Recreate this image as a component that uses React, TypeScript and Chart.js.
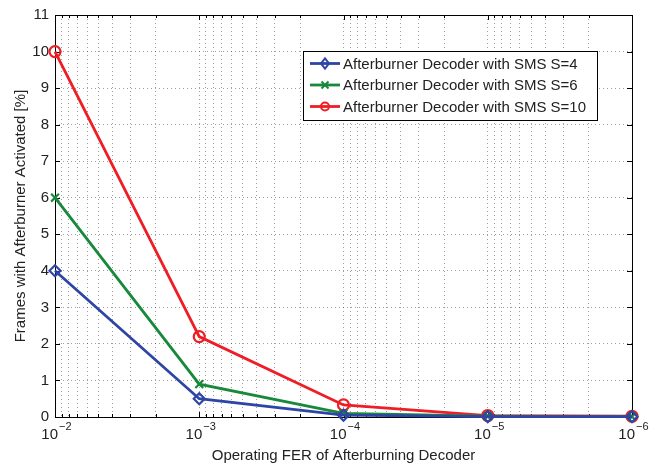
import React, { useEffect, useRef } from "react";
import { Chart, registerables } from "chart.js";

Chart.register(...registerables);

const fers = [1e-2, 1e-3, 1e-4, 1e-5, 1e-6];
const sms4 = [4, 0.5, 0.05, 0.01, 0.01];
const sms6 = [6, 0.9, 0.1, 0.02, 0.01];
const sms10 = [10, 2.2, 0.33, 0.04, 0.02];
const seriesLabels = [
  "Afterburner Decoder with SMS S=4",
  "Afterburner Decoder with SMS S=6",
  "Afterburner Decoder with SMS S=10",
];
const majorExponents = [-2, -3, -4, -5, -6];
const xTitle = "Operating FER of Afterburning Decoder";
const yTitle = "Frames with Afterburner Activated [%]";

const COLORS = ["#2E45A6", "#17893A", "#EE1D26"];
const STYLES = ["rectRot", "crossRot", "circle"];
const FONT = "'Liberation Sans', Arial, Helvetica, sans-serif";

function drawMarker(ctx: CanvasRenderingContext2D, style: string, x: number, y: number, r: number, color: string) {
  ctx.save();
  ctx.strokeStyle = color;
  ctx.lineWidth = 2;
  ctx.beginPath();
  if (style === "circle") {
    ctx.arc(x, y, r, 0, Math.PI * 2);
  } else if (style === "rectRot") {
    ctx.moveTo(x, y - r * 1.3);
    ctx.lineTo(x + r, y);
    ctx.lineTo(x, y + r * 1.3);
    ctx.lineTo(x - r, y);
    ctx.closePath();
  } else {
    ctx.moveTo(x - r, y - r);
    ctx.lineTo(x + r, y + r);
    ctx.moveTo(x + r, y - r);
    ctx.lineTo(x - r, y + r);
  }
  ctx.stroke();
  ctx.restore();
}

const decorPlugin = {
  id: "decor",
  beforeDatasetsDraw(chart: any) {
    const { ctx, chartArea } = chart;
    const { left, right, top, bottom } = chartArea;
    const xs = chart.scales.x;
    const ys = chart.scales.y;
    ctx.save();
    ctx.strokeStyle = "#000";
    ctx.lineWidth = 1;
    ctx.beginPath();
    for (let e = -6; e <= -2; e++) {
      for (let m = 1; m <= 9; m++) {
        const v = m * Math.pow(10, e);
        if (v > 1e-2 * 1.0001) break;
        const px = Math.round(xs.getPixelForValue(v)) + 0.5;
        const len = m === 1 ? 5 : 3;
        ctx.moveTo(px, bottom);
        ctx.lineTo(px, bottom - len);
        ctx.moveTo(px, top);
        ctx.lineTo(px, top + len);
      }
    }
    for (let v = 0; v <= 11; v++) {
      const py = Math.round(ys.getPixelForValue(v)) + 0.5;
      ctx.moveTo(left, py);
      ctx.lineTo(left + 5, py);
      ctx.moveTo(right, py);
      ctx.lineTo(right - 5, py);
    }
    ctx.stroke();
    ctx.strokeRect(Math.round(left) + 0.5, Math.round(top) + 0.5, Math.round(right - left), Math.round(bottom - top));
    ctx.restore();
  },
  afterDraw(chart: any) {
    const { ctx, chartArea } = chart;
    const { left, right, top, bottom } = chartArea;
    const xs = chart.scales.x;
    ctx.save();
    ctx.fillStyle = "#222";
    majorExponents.forEach((e) => {
      const px = xs.getPixelForValue(Math.pow(10, e));
      ctx.font = `15px ${FONT}`;
      ctx.textAlign = "right";
      ctx.textBaseline = "alphabetic";
      ctx.fillText("10", px + 3, 439);
      ctx.font = `11px ${FONT}`;
      ctx.textAlign = "left";
      ctx.fillText("\u2212" + Math.abs(e), px + 4, 430);
    });
    ctx.font = `15px ${FONT}`;
    ctx.textAlign = "center";
    ctx.textBaseline = "middle";
    ctx.fillText(xTitle, (left + right) / 2, 456);
    ctx.save();
    ctx.translate(21, (top + bottom) / 2);
    ctx.rotate(-Math.PI / 2);
    ctx.fillText(yTitle, 0, 0);
    ctx.restore();
    const lx = 303, ly = 51, lw = 294, lh = 69;
    ctx.fillStyle = "#fff";
    ctx.fillRect(lx, ly, lw, lh);
    ctx.strokeStyle = "#000";
    ctx.lineWidth = 1;
    ctx.strokeRect(lx + 0.5, ly + 0.5, lw, lh);
    seriesLabels.forEach((lab, i) => {
      const y = 63.5 + i * 21.5;
      ctx.strokeStyle = COLORS[i];
      ctx.lineWidth = 2.8;
      ctx.beginPath();
      ctx.moveTo(310, y);
      ctx.lineTo(340, y);
      ctx.stroke();
      drawMarker(ctx, STYLES[i], 325, y, STYLES[i] === "crossRot" ? 3.5 : 4, COLORS[i]);
      ctx.fillStyle = "#222";
      ctx.font = `15px ${FONT}`;
      ctx.textAlign = "left";
      ctx.textBaseline = "middle";
      ctx.fillText(lab, 343, y + 1);
    });
    ctx.restore();
  },
};

export default function App() {
  const ref = useRef<HTMLCanvasElement | null>(null);
  useEffect(() => {
    if (!ref.current) return;
    const series = [sms4, sms6, sms10];
    const chart = new Chart(ref.current, {
      type: "line",
      data: {
        datasets: series.map((s, i) => ({
          label: seriesLabels[i],
          data: fers.map((x, j) => ({ x, y: s[j] })),
          borderColor: COLORS[i],
          backgroundColor: "transparent",
          borderWidth: 2.8,
          pointStyle: STYLES[i] as any,
          pointRadius: 5.5,
          pointBorderWidth: 2.2,
          pointBorderColor: COLORS[i],
          pointBackgroundColor: "rgba(0,0,0,0)",
          tension: 0,
          clip: false as any,
        })),
      },
      options: {
        animation: false,
        responsive: true,
        maintainAspectRatio: false,
        layout: { padding: { top: 12, right: 24, left: 0, bottom: 0 } },
        plugins: { legend: { display: false }, tooltip: { enabled: false } },
        scales: {
          x: {
            type: "logarithmic",
            min: 1e-6,
            max: 1e-2,
            reverse: true,
            afterBuildTicks: (scale: any) => {
              const t: any[] = [];
              for (let e = -6; e <= -2; e++) {
                for (let m = 1; m <= 9; m++) {
                  const v = m * Math.pow(10, e);
                  if (v > 1e-2 * 1.0001) break;
                  t.push({ value: v });
                }
              }
              scale.ticks = t;
            },
            afterFit: (scale: any) => {
              scale.height = 49;
            },
            ticks: { display: false },
            grid: { color: "rgba(0,0,0,0.38)", lineWidth: 1, drawTicks: false },
            border: { display: false, dash: [1, 3] },
          },
          y: {
            min: 0,
            max: 11,
            ticks: {
              stepSize: 1,
              color: "#222",
              font: { family: FONT, size: 15 },
              padding: 6,
            },
            afterFit: (scale: any) => {
              scale.width = 55;
            },
            grid: { color: "rgba(0,0,0,0.38)", lineWidth: 1, drawTicks: false },
            border: { display: false, dash: [1, 3] },
          },
        },
      },
      plugins: [decorPlugin],
    });
    return () => chart.destroy();
  }, []);
  return (
    <div style={{ position: "absolute", left: 0, top: 0, width: 656, height: 466, background: "#fff" }}>
      <canvas ref={ref} />
    </div>
  );
}
